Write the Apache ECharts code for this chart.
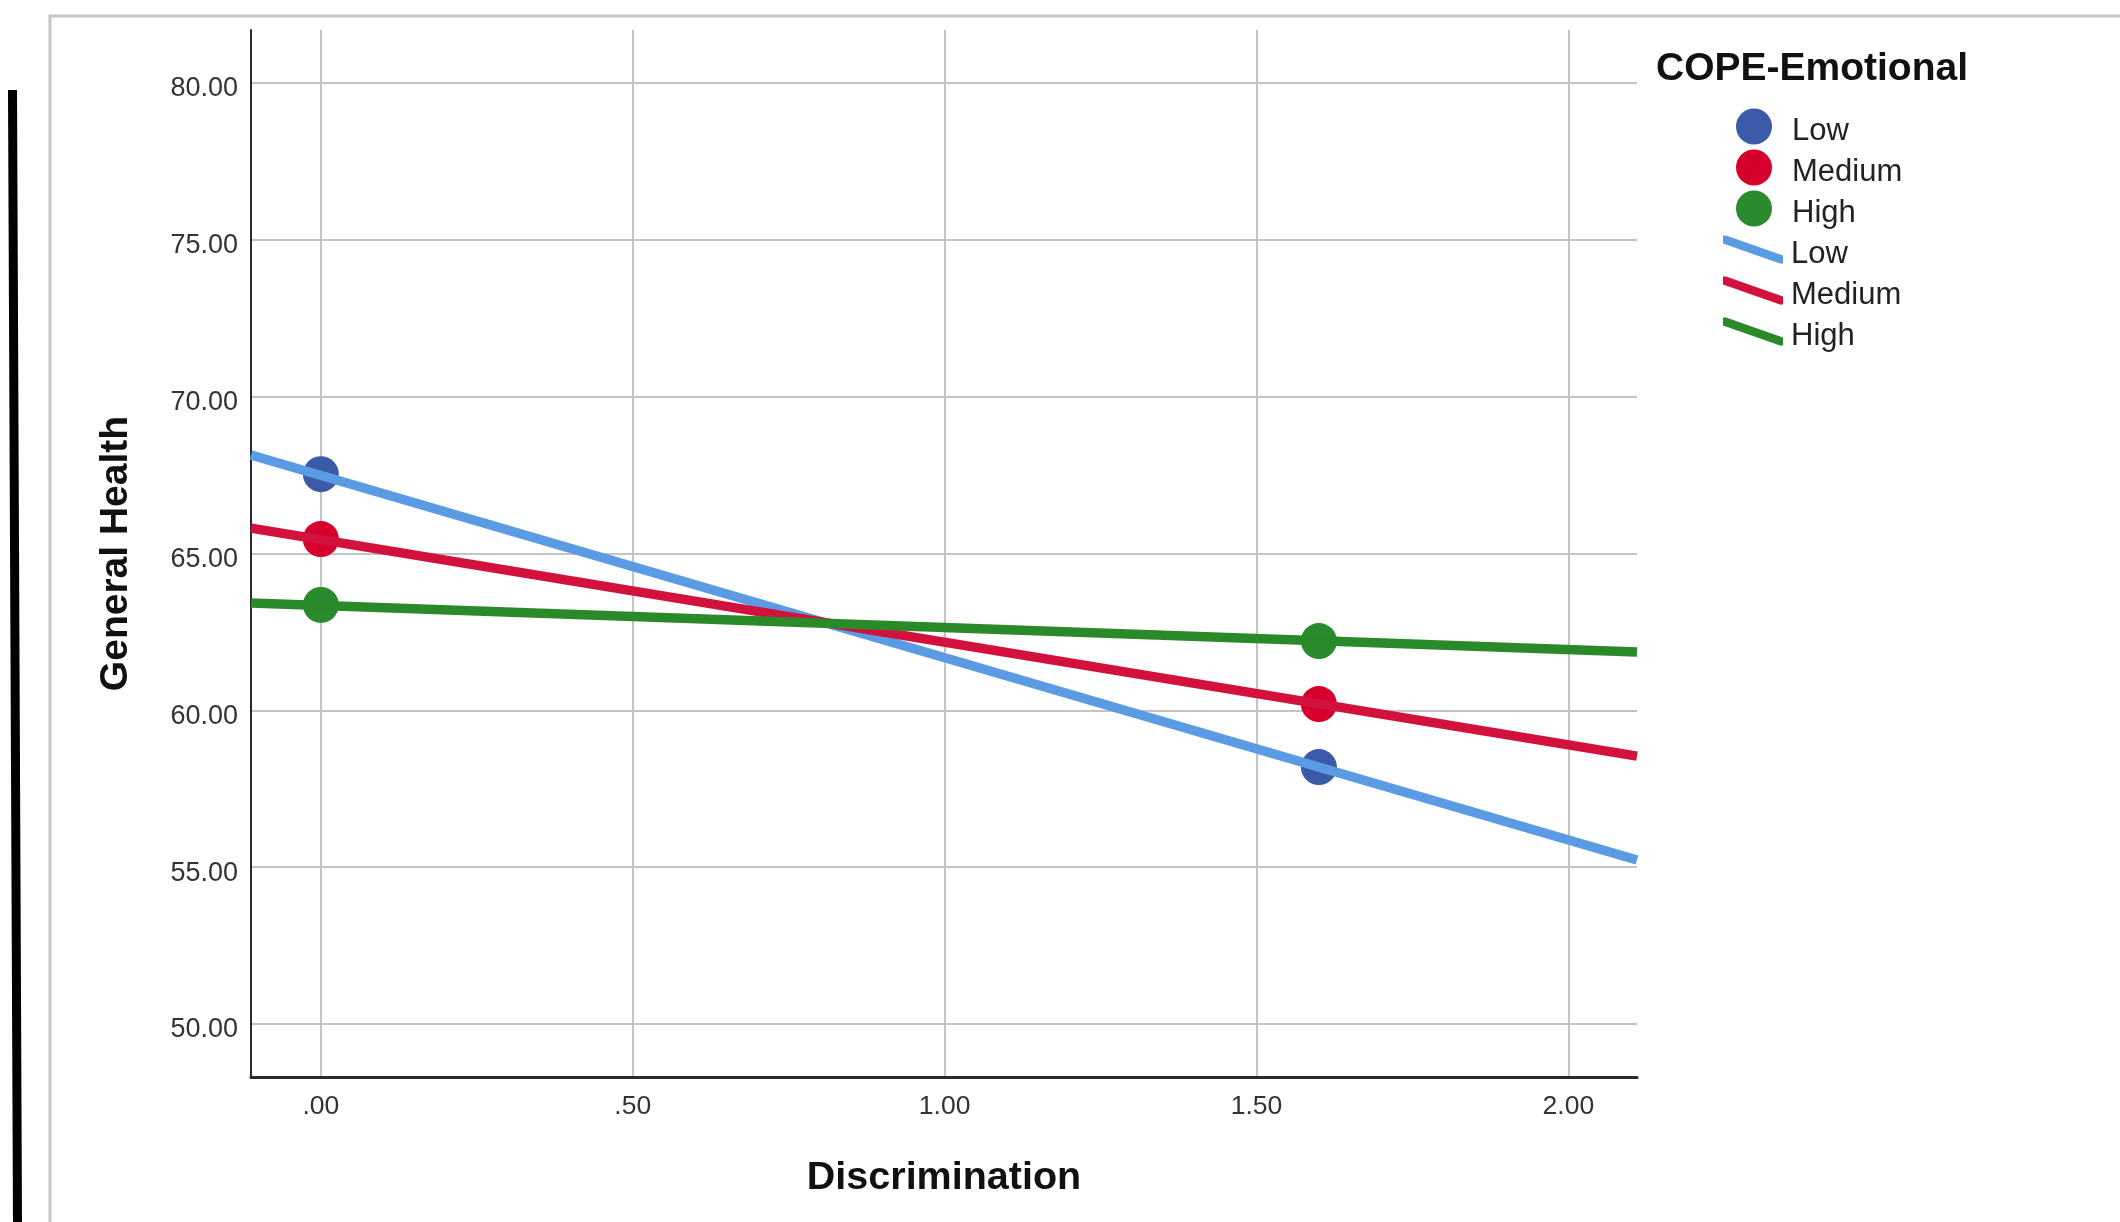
<!DOCTYPE html>
<html>
<head>
<meta charset="utf-8">
<script src="https://cdn.jsdelivr.net/npm/echarts@6/dist/echarts.min.js"></script>
<style>
html,body{margin:0;padding:0;background:#fff;}
#chart{width:2120px;height:1222px;}
</style>
</head>
<body>
<div id="chart"></div>
<script>
// ---- data ----
const groups = ['Low', 'Medium', 'High'];
const pointX = [0, 1.60];
const lowPoints = [67.53, 58.19];
const mediumPoints = [65.46, 60.20];
const highPoints = [63.36, 62.21];
// fitted lines, read at the left and right edges of the x axis
const lineX = [-0.112, 2.11];
const lowLine = [68.14, 55.23];
const mediumLine = [65.81, 58.54];
const highLine = [63.42, 61.86];
// axis ticks
const xTickValues = [0, 0.5, 1, 1.5, 2];
const xTickLabels = ['.00', '.50', '1.00', '1.50', '2.00'];
const yTickValues = [50, 55, 60, 65, 70, 75, 80];
const yTickLabels = ['50.00', '55.00', '60.00', '65.00', '70.00', '75.00', '80.00'];
const yRange = [48.31, 81.69];

const markerColors = ['#3b5aa8', '#d6002c', '#2a8a2e'];
const lineColors = ['#5a9be3', '#d2113c', '#2a8a2a'];
const pointSets = [lowPoints, mediumPoints, highPoints];
const lineSets = [lowLine, mediumLine, highLine];

const FONT = '"Liberation Sans", Arial, sans-serif';
const lineIcon = 'path://M0,0 L3,0 L60,20 L60,28 L57,28 L0,8 Z';

function labelFor(values, labels, v) {
  for (let i = 0; i < values.length; i++) {
    if (Math.abs(values[i] - v) < 1e-6) return labels[i];
  }
  return '';
}

const series = [];
groups.forEach((g, i) => {
  series.push({
    name: g,
    type: 'scatter',
    symbol: 'circle',
    symbolSize: 36,
    z: 2,
    itemStyle: { color: markerColors[i], opacity: 1 },
    data: pointX.map((x, j) => [x, pointSets[i][j]])
  });
});
groups.forEach((g, i) => {
  series.push({
    name: g + ' fit',
    type: 'line',
    showSymbol: false,
    symbol: 'none',
    z: 3,
    color: lineColors[i],
    itemStyle: { color: lineColors[i] },
    lineStyle: { color: lineColors[i], width: 9.5, cap: 'butt' },
    data: lineX.map((x, j) => [x, lineSets[i][j]])
  });
});

const legendRich = {
  t: { fontFamily: FONT, fontSize: 31, color: '#222', lineHeight: 31, padding: [10, 0, 0, 3] }
};

const chart = echarts.init(document.getElementById('chart'), null, { renderer: 'canvas' });
chart.setOption({
  animation: false,
  backgroundColor: '#ffffff',
  title: {
    text: 'COPE-Emotional',
    left: 1656,
    top: 50,
    padding: 0,
    textStyle: { fontFamily: FONT, fontSize: 39, fontWeight: 'bold', color: '#111', lineHeight: 39 }
  },
  legend: [
    {
      orient: 'vertical',
      left: 1736,
      top: 106,
      padding: 0,
      itemWidth: 60,
      itemHeight: 36,
      itemGap: 0,
      selectedMode: false,
      icon: 'circle',
      data: groups.map((g, i) => ({ name: g, itemStyle: { color: markerColors[i] } })),
      formatter: name => '{t|' + name + '}',
      textStyle: { fontFamily: FONT, fontSize: 31, color: '#222', rich: legendRich }
    },
    {
      orient: 'vertical',
      left: 1723,
      top: 229,
      padding: 0,
      itemWidth: 60,
      itemHeight: 28,
      itemGap: 0,
      selectedMode: false,
      data: groups.map((g, i) => ({ name: g + ' fit', icon: lineIcon, itemStyle: { color: lineColors[i], borderWidth: 0 } })),
      formatter: name => '{t|' + name.replace(' fit', '') + '}',
      textStyle: { fontFamily: FONT, fontSize: 31, color: '#222', rich: legendRich }
    }
  ],
  grid: { left: 251, top: 30, right: 483, bottom: 145, containLabel: false },
  xAxis: {
    type: 'value',
    min: lineX[0],
    max: lineX[1],
    name: 'Discrimination',
    nameLocation: 'middle',
    nameGap: 82,
    nameTextStyle: { fontFamily: FONT, fontSize: 39.5, fontWeight: 'bold', color: '#111', lineHeight: 39 },
    axisLine: { show: true, onZero: false, lineStyle: { color: '#2a2a2a', width: 3 } },
    axisTick: { show: false },
    axisLabel: {
      margin: 17,
      showMinLabel: false,
      showMaxLabel: false,
      fontFamily: FONT, fontSize: 26.5, color: '#333', lineHeight: 26,
      formatter: v => labelFor(xTickValues, xTickLabels, v)
    },
    splitLine: { show: true, showMinLine: false, showMaxLine: false, lineStyle: { color: '#c4c4c4', width: 2 } }
  },
  yAxis: {
    type: 'value',
    min: yRange[0],
    max: yRange[1],
    name: 'General Health',
    nameLocation: 'middle',
    nameGap: 115,
    nameRotate: 90,
    nameTextStyle: { fontFamily: FONT, fontSize: 39, fontWeight: 'bold', color: '#111', lineHeight: 39 },
    axisLine: { show: true, onZero: false, lineStyle: { color: '#2a2a2a', width: 2 } },
    axisTick: { show: false },
    axisLabel: {
      margin: 13,
      showMinLabel: false,
      showMaxLabel: false,
      fontFamily: FONT, fontSize: 27, color: '#333',
      formatter: v => { const s = labelFor(yTickValues, yTickLabels, v); return s ? '{y|' + s + '}' : ''; },
      rich: { y: { fontFamily: FONT, fontSize: 27, color: '#333', lineHeight: 26, padding: [12, 0, 0, 0] } }
    },
    splitLine: { show: true, showMinLine: false, showMaxLine: false, lineStyle: { color: '#c4c4c4', width: 2 } }
  },
  graphic: [
    {
      type: 'rect', z: -10, silent: true,
      shape: { x: 50, y: 16, width: 2300, height: 1400 },
      style: { fill: 'none', stroke: '#c6c6c6', lineWidth: 3 }
    },
    {
      type: 'polygon', z: -10, silent: true,
      shape: { points: [[8, 90], [17, 90], [22, 1222], [13, 1222]] },
      style: { fill: '#000' }
    }
  ],
  series: series
});
</script>
</body>
</html>
